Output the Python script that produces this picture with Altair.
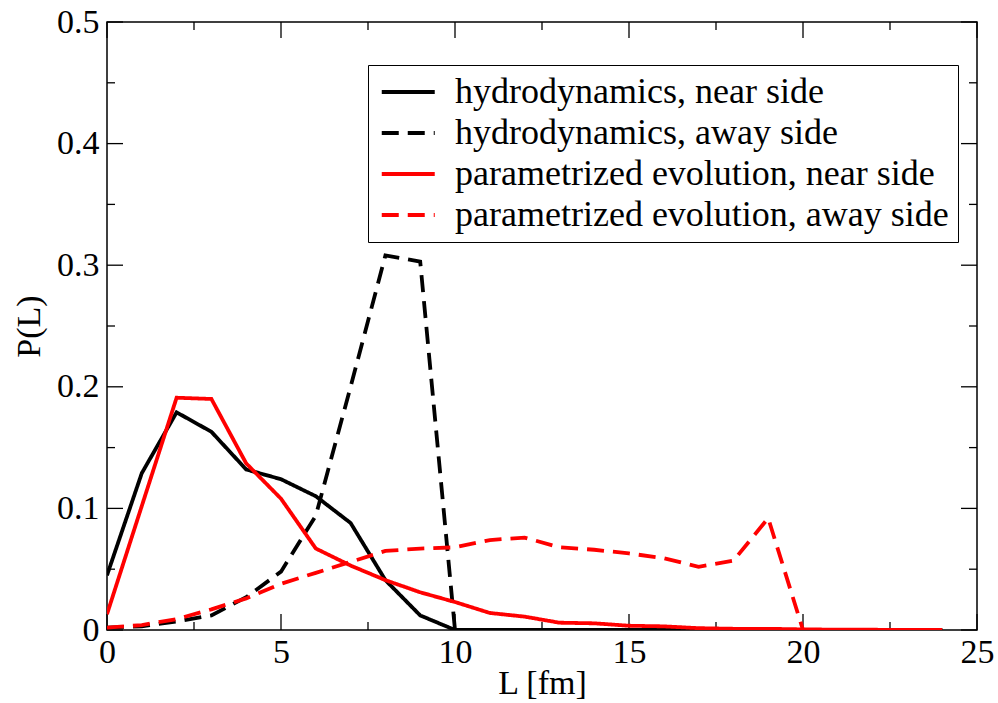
import altair as alt
import pandas as pd

# ---- data ----
L_values = list(range(25))

series_names = [
    "hydrodynamics, near side",
    "hydrodynamics, away side",
    "parametrized evolution, near side",
    "parametrized evolution, away side",
]

hydro_near = [0.045, 0.129, 0.179, 0.163, 0.132, 0.124, 0.110, 0.088, 0.041, 0.012,
              0.0, 0.0, 0.0, 0.0, 0.0, 0.0, 0.0, 0.0, 0.0, 0.0, 0.0, 0.0, 0.0, 0.0, 0.0]
hydro_away = [0.002, 0.003, 0.007, 0.012, 0.027, 0.048, 0.094, 0.200, 0.308, 0.303,
              0.0, 0.0, 0.0, 0.0, 0.0, 0.0, 0.0, 0.0, 0.0, 0.0, 0.0, 0.0, 0.0, 0.0, 0.0]
param_near = [0.013, 0.102, 0.191, 0.190, 0.137, 0.108, 0.067, 0.053, 0.041, 0.031,
              0.023, 0.014, 0.011, 0.006, 0.0055, 0.0035, 0.003, 0.0015, 0.001, 0.001,
              0.0005, 0.0003, 0.0002, 0.0001, 0.0]
param_away = [0.002, 0.004, 0.009, 0.017, 0.026, 0.038, 0.047, 0.056, 0.065, 0.067,
              0.068, 0.074, 0.076, 0.068, 0.066, 0.063, 0.059, 0.052, 0.057, 0.092,
              0.0, 0.0, 0.0, 0.0, 0.0]

x_major = [0, 5, 10, 15, 20, 25]
x_minor = [2.5, 7.5, 12.5, 17.5, 22.5]
y_major = [0.0, 0.1, 0.2, 0.3, 0.4, 0.5]
y_minor = [0.05, 0.15, 0.25, 0.35, 0.45]

# ---- styles ----
W, H = 870, 608
FONT = "Liberation Serif"
colors = ["black", "black", "#ff0000", "#ff0000"]
dashes = [[1, 0], [17, 9], [1, 0], [17, 9]]
widths = [3.8, 3.8, 2.7, 3.8]
MAJOR, MINOR = 16, 8
TICK_FS = 34

rows = []
for name, vals in zip(series_names, [hydro_near, hydro_away, param_near, param_away]):
    for xv, yv in zip(L_values, vals):
        rows.append({"L": xv, "P": yv, "series": name})
df = pd.DataFrame(rows)

xscale = alt.Scale(domain=[0, 25], nice=False, zero=False)
yscale = alt.Scale(domain=[0, 0.5], nice=False)

legend = alt.Legend(
    title=None, orient="none", legendX=261, legendY=43,
    fillColor="white", strokeColor="black", padding=9,
    symbolType="M-1,0H3", symbolSize=702, symbolOffset=0,
    labelFont=FONT, labelFontSize=36, labelColor="black", labelLimit=0,
    labelOffset=42, rowPadding=5,
)

lines = alt.Chart(df).mark_line(clip=True).encode(
    x=alt.X("L:Q", scale=xscale,
            axis=alt.Axis(values=x_major, ticks=False, domain=False, grid=False,
                          labelFlush=False,
                          title="L [fm]", labelFont=FONT, labelFontSize=TICK_FS,
                          labelColor="black", labelPadding=5,
                          titleFont=FONT, titleFontSize=TICK_FS, titleFontWeight="normal",
                          titleColor="black", titlePadding=-3)),
    y=alt.Y("P:Q", scale=yscale,
            axis=alt.Axis(values=y_major, ticks=False, domain=False, grid=False,
                          labelFlush=False,
                          title="P(L)", labelFont=FONT, labelFontSize=TICK_FS,
                          labelColor="black", labelPadding=8,
                          labelExpr="datum.value == 0 ? '0' : format(datum.value, '.1f')",
                          titleFont=FONT, titleFontSize=TICK_FS, titleFontWeight="normal",
                          titleColor="black", titlePadding=10)),
    color=alt.Color("series:N", scale=alt.Scale(domain=series_names, range=colors), legend=legend),
    strokeDash=alt.StrokeDash("series:N", scale=alt.Scale(domain=series_names, range=dashes), legend=legend),
    strokeWidth=alt.StrokeWidth("series:N", scale=alt.Scale(domain=series_names, range=widths), legend=legend),
    order=alt.Order("L:Q"),
)

def xticks(vals, length):
    d = pd.DataFrame({"v": vals})
    bottom = alt.Chart(d).mark_rule(color="black", strokeWidth=1.3).encode(
        x=alt.X("v:Q", scale=xscale), y=alt.value(H), y2=alt.value(H - length))
    top = alt.Chart(d).mark_rule(color="black", strokeWidth=1.3).encode(
        x=alt.X("v:Q", scale=xscale), y=alt.value(0), y2=alt.value(length))
    return [bottom, top]

def yticks(vals, length):
    d = pd.DataFrame({"v": vals})
    left = alt.Chart(d).mark_rule(color="black", strokeWidth=1.3).encode(
        y=alt.Y("v:Q", scale=yscale), x=alt.value(0), x2=alt.value(length))
    right = alt.Chart(d).mark_rule(color="black", strokeWidth=1.3).encode(
        y=alt.Y("v:Q", scale=yscale), x=alt.value(W), x2=alt.value(W - length))
    return [left, right]

tick_layers = (xticks(x_major, MAJOR) + xticks(x_minor, MINOR)
               + yticks(y_major, MAJOR) + yticks(y_minor, MINOR))

chart = alt.layer(*tick_layers, lines).properties(
    width=W, height=H,
    autosize=alt.AutoSizeParams(type="none"),
    padding={"left": 107, "top": 22, "right": 21, "bottom": 73},
    background="white",
).configure_view(stroke="black", strokeWidth=1.5)

chart.save("out.html", embed_options={"renderer": "svg", "actions": False})
